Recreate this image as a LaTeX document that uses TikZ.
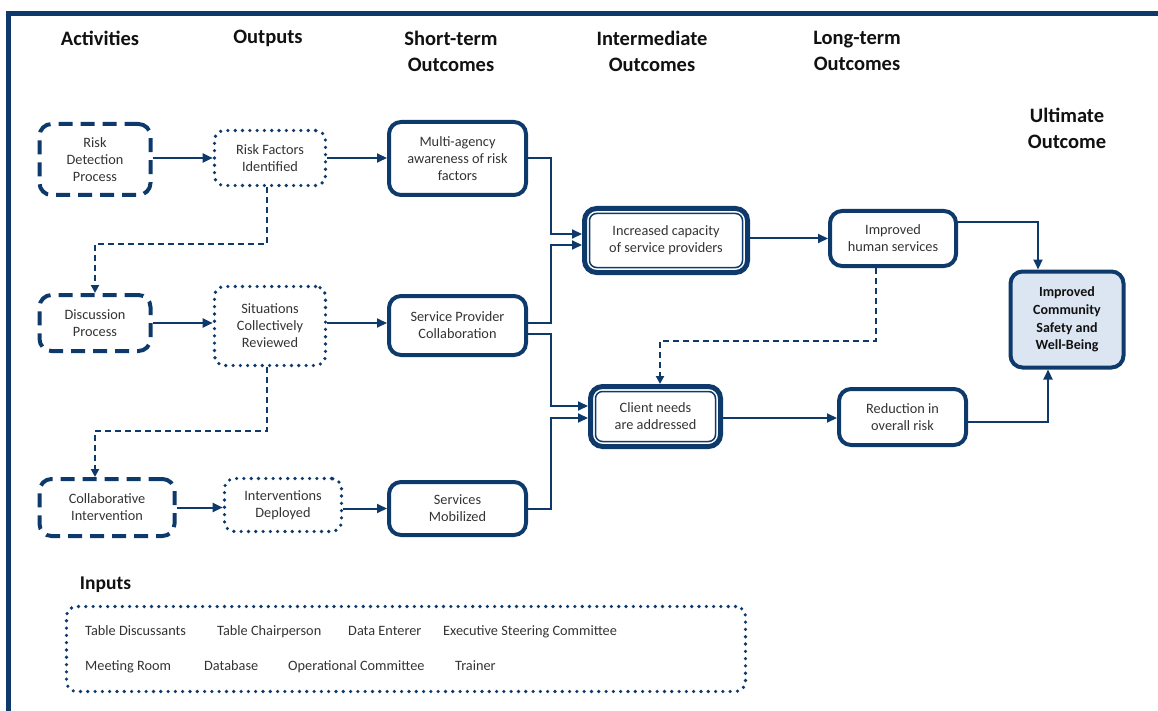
\documentclass[tikz,border=0pt]{standalone}
\usepackage{fontspec}
\setmainfont{Carlito}
\usetikzlibrary{arrows.meta}
\definecolor{navy}{HTML}{0E3A6B}
\definecolor{txt}{HTML}{333333}
\definecolor{hdrtxt}{HTML}{111111}
\definecolor{ultfill}{HTML}{DCE6F2}
\begin{document}
\begin{tikzpicture}[x=1pt,y=-1pt,
  box/.style={rectangle, rounded corners=12pt, draw=navy, line width=4pt, align=center, inner sep=0pt, text=txt, font=\fontsize{14.3}{17}\selectfont},
  actbox/.style={box, dash pattern=on 14pt off 8pt},
  outbox/.style={box, line width=3.6pt, dash pattern=on 0pt off 7.3pt, line cap=round, rounded corners=10pt},
  dblbox/.style={box, line width=5pt},
  innerline/.style={draw=navy, line width=1.5pt, rounded corners=7pt},
  ultbox/.style={box, fill=ultfill, text=hdrtxt, font=\bfseries\fontsize{14}{17.7}\selectfont},
  hdr/.style={font=\bfseries\fontsize{20.5}{26}\selectfont, align=center, text=hdrtxt, inner sep=0pt},
  inlabel/.style={font=\fontsize{14.3}{17}\selectfont, text=txt, inner sep=0pt, anchor=base west},
  arr/.style={draw=navy, line width=2pt, -{Triangle[length=10pt,width=9pt]}},
  darr/.style={draw=navy, line width=2pt, dash pattern=on 6pt off 4pt, -{Triangle[length=8pt,width=8pt]}},
  frame/.style={draw=navy, line width=4.5pt}
]
\useasboundingbox (0,0) rectangle (1158,711);
\draw[frame] (8.5,716) -- (8.5,13.5) -- (1163,13.5);

% headers
\node[hdr] (h1) at (100,38) {Activities};
\node[hdr] (h2) at (268,38) {Outputs};
\node[hdr] (h3) at (451,51) {Short-term\\Outcomes};
\node[hdr] (h4) at (652,51) {Intermediate\\Outcomes};
\node[hdr] (h5) at (857,51) {Long-term\\Outcomes};
\node[hdr] (h6) at (1067,128) {Ultimate\\Outcome};

% activities
\node[actbox, minimum width=111pt, minimum height=71pt] (rdp) at (95,159.5) {Risk\\Detection\\Process};
\node[actbox, minimum width=111pt, minimum height=56pt] (dp) at (95,323) {Discussion\\Process};
\node[actbox, minimum width=135pt, minimum height=57pt] (ci) at (107,507.5) {Collaborative\\Intervention};

% outputs
\node[outbox, minimum width=111pt, minimum height=55pt] (rfi) at (270,158) {Risk Factors\\Identified};
\node[outbox, minimum width=111pt, minimum height=79pt] (scr) at (270,326) {Situations\\Collectively\\Reviewed};
\node[outbox, minimum width=117pt, minimum height=53pt] (id) at (283,505) {Interventions\\Deployed};

% short-term
\node[box, minimum width=137pt, minimum height=73pt] (mar) at (457.5,158.5) {Multi-agency\\awareness of risk\\factors};
\node[box, minimum width=137pt, minimum height=59pt] (spc) at (457.5,325.5) {Service Provider\\Collaboration};
\node[box, minimum width=137pt, minimum height=53pt] (sm) at (457.5,508.5) {Services\\Mobilized};

% intermediate
\node[dblbox, minimum width=163pt, minimum height=64pt] (ic) at (666,240.5) {Increased capacity\\of service providers};
\draw[innerline] ([shift={(7.5pt,-7.5pt)}]ic.north west) rectangle ([shift={(-7.5pt,7.5pt)}]ic.south east);
\node[dblbox, minimum width=130pt, minimum height=60pt] (cn) at (655.5,416.5) {Client needs\\are addressed};
\draw[innerline] ([shift={(7.5pt,-7.5pt)}]cn.north west) rectangle ([shift={(-7.5pt,7.5pt)}]cn.south east);

% long-term
\node[box, minimum width=126pt, minimum height=55pt] (ihs) at (893,238.5) {Improved\\human services};
\node[box, minimum width=127pt, minimum height=56pt] (rir) at (902.5,417) {Reduction in\\overall risk};

% ultimate
\node[ultbox, minimum width=113pt, minimum height=96pt] (uo) at (1067,319.5) {Improved\\Community\\Safety and\\Well-Being};

% inputs
\node[font=\bfseries\fontsize{19.5}{24}\selectfont, text=hdrtxt, inner sep=0pt] (inl) at (105.5,585) {Inputs};
\node[outbox, minimum width=679pt, minimum height=85pt] (inputs) at (406,649) {};
\node[inlabel] (i1) at (85,635) {Table Discussants};
\node[inlabel] (i2) at (217,635) {Table Chairperson};
\node[inlabel] (i3) at (348,635) {Data Enterer};
\node[inlabel] (i4) at (443,635) {Executive Steering Committee};
\node[inlabel] (i5) at (85,670) {Meeting Room};
\node[inlabel] (i6) at (204,670) {Database};
\node[inlabel] (i7) at (288,670) {Operational Committee};
\node[inlabel] (i8) at (455,670) {Trainer};

% connectors: activities -> outputs -> short-term
\draw[arr] (rdp.east |- rfi.west) -- (rfi.west);
\draw[arr] (rfi.east) -- (rfi.east -| mar.west);
\draw[arr] (dp.east) -- (dp.east -| scr.west);
\draw[arr] (scr.east |- dp.east) -- (spc.west |- dp.east);
\draw[arr] (ci.east) -- (ci.east -| id.west);
\draw[arr] (id.east |- sm.west) -- (sm.west);

% dashed process links
\draw[darr] ([xshift=-3pt]rfi.south) -- ++(0,57) -| (dp.north);
\draw[darr] ([xshift=-3pt]scr.south) -- ++(0,64) -| ([xshift=-12pt]ci.north);

% short-term -> intermediate
\draw[arr] (mar.east) -- ++(23,0) |- ([yshift=6.5pt]ic.west);
\draw[arr] ([yshift=2.5pt]spc.east) -- ++(23,0) |- ([yshift=-4.5pt]ic.west);
\draw[arr] ([yshift=-8.5pt]spc.east) -- ++(23,0) |- ([yshift=10.5pt]cn.west);
\draw[arr] (sm.east) -- ++(23,0) |- ([yshift=-1.5pt]cn.west);

% intermediate -> long-term
\draw[arr] (ic.east |- ihs.west) -- (ihs.west);
\draw[arr] ([yshift=-1.5pt]cn.east) -- ([yshift=-1.5pt]cn.east -| rir.west);
\draw[darr] ([xshift=-17pt]ihs.south) -- ++(0,73) -| ([xshift=4.5pt]cn.north);

% long-term -> ultimate
\draw[arr] ([yshift=16.5pt]ihs.east) -| ([xshift=-29pt]uo.north);
\draw[arr] ([yshift=-5pt]rir.east) -| ([xshift=-19pt]uo.south);
\end{tikzpicture}
\end{document}
